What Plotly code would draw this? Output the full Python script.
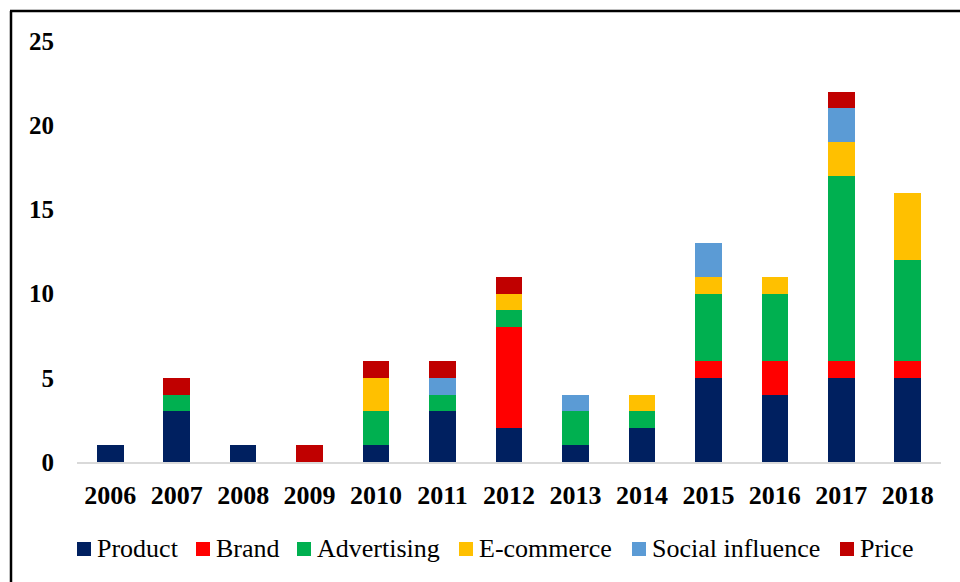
import plotly.graph_objects as go

years = ["2006", "2007", "2008", "2009", "2010", "2011", "2012",
         "2013", "2014", "2015", "2016", "2017", "2018"]

product = [1, 3, 1, 0, 1, 3, 2, 1, 2, 5, 4, 5, 5]
brand = [0, 0, 0, 0, 0, 0, 6, 0, 0, 1, 2, 1, 1]
advertising = [0, 1, 0, 0, 2, 1, 1, 2, 1, 4, 4, 11, 6]
ecommerce = [0, 0, 0, 0, 2, 0, 1, 0, 1, 1, 1, 2, 4]
social_influence = [0, 0, 0, 0, 0, 1, 0, 1, 0, 2, 0, 2, 0]
price = [0, 1, 0, 1, 1, 1, 1, 0, 0, 0, 0, 1, 0]

series = [
    ("Product", product, "#002060"),
    ("Brand", brand, "#FF0000"),
    ("Advertising", advertising, "#00B050"),
    ("E-commerce", ecommerce, "#FFC000"),
    ("Social influence", social_influence, "#5B9BD5"),
    ("Price", price, "#C00000"),
]

SERIF = "Liberation Serif, Times New Roman, serif"

fig = go.Figure()
for name, vals, color in series:
    fig.add_trace(go.Bar(
        x=years, y=vals, name=name,
        marker=dict(color=color, line=dict(width=0)),
        width=0.4, showlegend=False,
    ))

W, H = 960, 582
ml, mr, mt, mb = 77, 19, 41, 120
pw, ph = W - ml - mr, H - mt - mb


def px_x(p):
    return (p - ml) / pw


def px_y(p):
    return (H - mb - p) / ph


# page frame (top and left edges)
shapes = [
    dict(type="line", xref="paper", yref="paper",
         x0=px_x(10), x1=px_x(962), y0=px_y(11), y1=px_y(11),
         line=dict(color="black", width=2.5)),
    dict(type="line", xref="paper", yref="paper",
         x0=px_x(11), x1=px_x(11), y0=px_y(11), y1=px_y(584),
         line=dict(color="black", width=2.5)),
]
annotations = []

# legend row below the axis: colour square followed by series name
legend_x = [77, 196, 297, 459, 632, 840]
for (name, _, color), lx in zip(series, legend_x):
    shapes.append(dict(
        type="rect", xref="paper", yref="paper",
        x0=px_x(lx), x1=px_x(lx + 14), y0=px_y(556), y1=px_y(542),
        fillcolor=color, line=dict(width=0),
    ))
    annotations.append(dict(
        text=name, xref="paper", yref="paper",
        x=px_x(lx + 18), y=px_y(548), xanchor="left", yanchor="middle",
        showarrow=False,
        font=dict(family=SERIF, size=26, color="black"),
    ))

fig.update_layout(
    width=W, height=H,
    barmode="stack",
    plot_bgcolor="white", paper_bgcolor="white",
    margin=dict(l=ml, r=mr, t=mt, b=mb),
    font=dict(family=SERIF, color="black"),
    showlegend=False,
    xaxis=dict(
        type="category", range=[-0.5, 12.5],
        showline=True, linecolor="#D9D9D9", linewidth=2,
        showgrid=False, ticks="",
        tickfont=dict(family=SERIF, size=26, color="black", weight="bold"),
        ticklabelstandoff=9,
    ),
    yaxis=dict(
        range=[0, 25], tickvals=[0, 5, 10, 15, 20, 25],
        showgrid=False, zeroline=False, showline=False, ticks="",
        tickfont=dict(family=SERIF, size=25, color="black", weight="bold"),
        ticklabelstandoff=22,
    ),
    shapes=shapes,
    annotations=annotations,
)

fig.write_html("out.html")
